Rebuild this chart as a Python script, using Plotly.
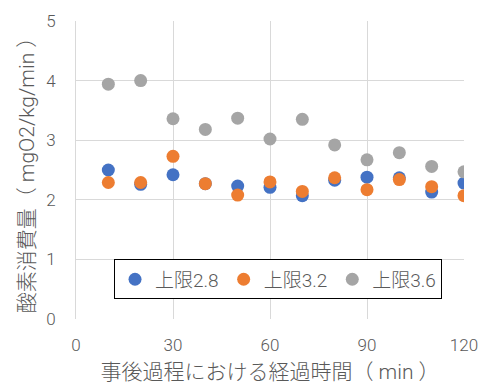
import plotly.graph_objects as go

# elapsed time after the event (min)
minutes = [10, 20, 30, 40, 50, 60, 70, 80, 90, 100, 110, 120]

# oxygen consumption (mgO2/kg/min) for each upper limit
limit_28 = [2.50, 2.26, 2.42, 2.27, 2.23, 2.21, 2.07, 2.33, 2.38, 2.37, 2.13, 2.28]
limit_32 = [2.29, 2.29, 2.73, 2.27, 2.08, 2.30, 2.14, 2.37, 2.17, 2.34, 2.22, 2.07]
limit_36 = [3.94, 4.00, 3.36, 3.18, 3.37, 3.02, 3.35, 2.92, 2.67, 2.79, 2.56, 2.47]

series = [
    ("上限2.8", limit_28, "#4472C4"),
    ("上限3.2", limit_32, "#ED7D31"),
    ("上限3.6", limit_36, "#A5A5A5"),
]

x_ticks = [0, 30, 60, 90, 120]
y_ticks = [0, 1, 2, 3, 4, 5]

font_family = "Roboto, Noto Sans CJK JP"
text_grey = "#595959"
grid_grey = "#D9D9D9"

fig = go.Figure()
for name, values, color in series:
    fig.add_trace(go.Scatter(
        x=minutes, y=values, name=name, mode="markers",
        marker=dict(size=13, color=color),
    ))

fig.update_layout(
    width=485, height=384,
    margin=dict(l=76, r=21, t=21, b=65),
    paper_bgcolor="white", plot_bgcolor="white",
    font=dict(family=font_family, color=text_grey, size=17, weight=300),
    showlegend=True,
    legend=dict(
        orientation="h",
        x=0.098, y=0.2, xanchor="left", yanchor="top",
        bordercolor="black", borderwidth=1,
        bgcolor="white",
        font=dict(size=19, color=text_grey, weight=300),
        itemwidth=30,
        tracegroupgap=0,
    ),
    xaxis=dict(
        range=[0, 120], tickvals=x_ticks,
        showgrid=True, gridcolor=grid_grey, gridwidth=1,
        zeroline=False, showline=False, automargin=False,
        ticks="", ticklen=0, ticklabelstandoff=14,
        tickfont=dict(size=17, color=text_grey, weight=300),
        title=dict(text="事後過程における経過時間（ min ）",
                   font=dict(size=21, color=text_grey, weight=300), standoff=10),
    ),
    yaxis=dict(
        range=[0, 5], tickvals=y_ticks,
        showgrid=True, gridcolor=grid_grey, gridwidth=1,
        zeroline=False, showline=True, linecolor=grid_grey, linewidth=1,
        automargin=False,
        ticks="", ticklen=0, ticklabelstandoff=16,
        tickfont=dict(size=17, color=text_grey, weight=300),
        title=dict(text="酸素消費量（ mgO2/kg/min ）",
                   font=dict(size=21, color=text_grey, weight=300), standoff=5),
    ),
)

fig.write_html("out.html")
